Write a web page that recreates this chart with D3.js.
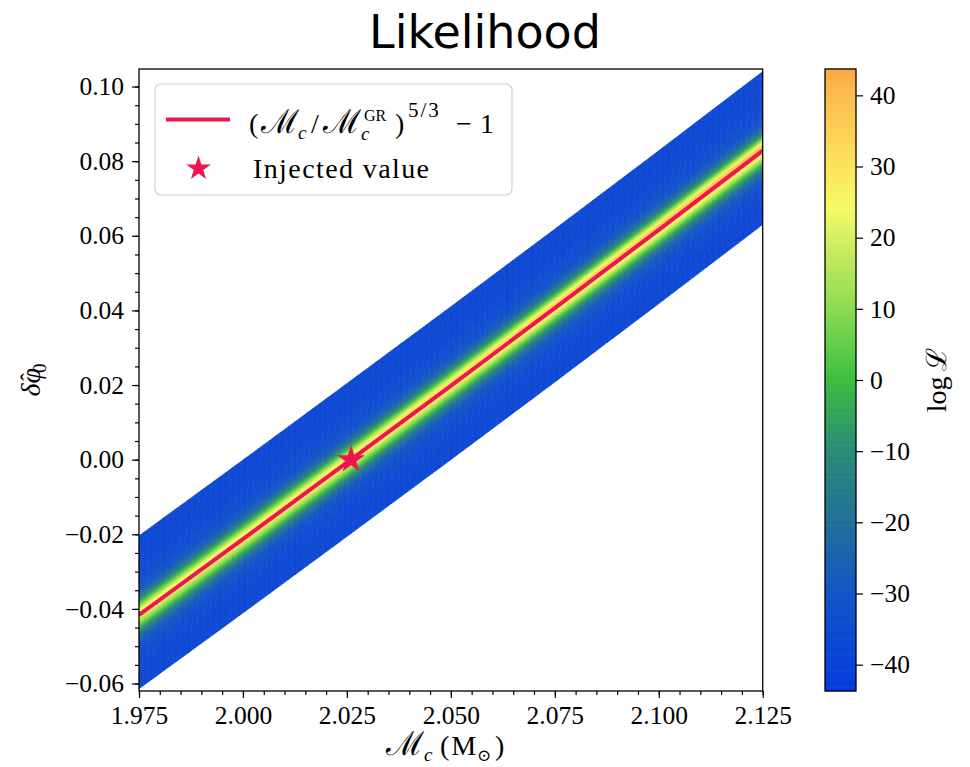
<!DOCTYPE html>
<html><head><meta charset="utf-8">
<script src="https://cdn.jsdelivr.net/npm/d3@7"></script>
<style>body{margin:0;background:#fff}svg{display:block}</style>
</head><body>
<svg id="chart" width="970" height="767"></svg>
<script>
// ---------- data ----------
const xTicks = [1.975, 2.000, 2.025, 2.050, 2.075, 2.100, 2.125];
const xTickLabels = ["1.975", "2.000", "2.025", "2.050", "2.075", "2.100", "2.125"];
const yTicks = [-0.06, -0.04, -0.02, 0.00, 0.02, 0.04, 0.06, 0.08, 0.10];
const yTickLabels = ["\u22120.06", "\u22120.04", "\u22120.02", "0.00", "0.02", "0.04", "0.06", "0.08", "0.10"];
const cbTicks = [-40, -30, -20, -10, 0, 10, 20, 30, 40];
const cbTickLabels = ["\u221240", "\u221230", "\u221220", "\u221210", "0", "10", "20", "30", "40"];

// GR relation curve, read at the tick positions
const lineMc = [1.975, 2.000, 2.025, 2.050, 2.075, 2.100, 2.125];
const lineValues = [-0.0416, -0.0213, -0.0008, 0.0198, 0.0406, 0.0616, 0.0828];

// injected point
const injectedMc = [2.026];
const injectedDphi = [0.0];

// likelihood band: offsets from the GR curve and log L profile at three chirp masses
const bandMc = [1.975, 2.050, 2.125];
const bandOffsets = [-0.0198, -0.0130, -0.0100, -0.0075, -0.0058, -0.0044, -0.0032, -0.0020, -0.0008, 0.0004, 0.0014, 0.0026, 0.0040, 0.0054, 0.0070, 0.0090, 0.0130, 0.0210];
const logL1975 = [-38, -37, -35, -31, -24, -13, -1, 11, 19, 24, 23, 9, -7, -21, -29, -34, -37, -38];
const logL2050 = [-38, -37, -35, -31, -23, -12, 0, 13, 23, 30, 29, 12, -6, -20, -29, -34, -37, -38];
const logL2125 = [-38, -37, -35, -30, -22, -10, 2, 16, 28, 38, 37, 17, -4, -19, -28, -34, -37, -38];

// colour map
const cStops = [-43.7, -40, -30, -20, -10, 0, 10, 20, 24, 30, 40, 43.7];
const cHex = ["#053ae0", "#0842d8", "#1255c6", "#1f7098", "#2a8a78", "#3cbd3e", "#8cdb52", "#d6ef62", "#f6fb66", "#fde35c", "#fcbd4c", "#f9a846"];
const cbDomain = [-43.7, 43.7];

// ---------- layout ----------
const P = {left: 139, right: 762.7, top: 69, bottom: 691};
const CB = {left: 825, right: 856};
const RED = "#ef1650";
const SERIF = "'Liberation Serif','DejaVu Serif',serif";

const svg = d3.select("#chart");
const x = d3.scaleLinear().domain([1.975, 2.125]).range([P.left, P.right]);
const y = d3.scaleLinear().domain([-0.0620, 0.1047]).range([P.bottom, P.top]);
const color = d3.scaleLinear().domain(cStops).range(cHex).interpolate(d3.interpolateRgb).clamp(true);
const curve = d3.scaleLinear().domain(lineMc).range(lineValues);

// title
svg.append("text").attr("x", 485).attr("y", 48).attr("text-anchor", "middle")
  .attr("font-family", "'DejaVu Sans',sans-serif").attr("font-size", 46).attr("fill", "#000")
  .text("Likelihood");

// clip
svg.append("clipPath").attr("id", "clip").append("rect")
  .attr("x", P.left).attr("y", P.top).attr("width", P.right - P.left).attr("height", P.bottom - P.top);
const plot = svg.append("g").attr("clip-path", "url(#clip)");

// band cells
const profiles = [logL1975, logL2050, logL2125].map(v => d3.scaleLinear().domain(bandOffsets).range(v));
const mcStep = 0.0015, dStep = 0.0005;
const cols = d3.range(1.975, 2.125 + 1e-9, mcStep);
const rows = d3.range(bandOffsets[0], bandOffsets[bandOffsets.length - 1] + 1e-9, dStep);
const cells = [];
cols.forEach(m0 => {
  const m1 = m0 + mcStep;
  const mc = (m0 + m1) / 2;
  rows.forEach(d0 => {
    const d1 = d0 + dStep;
    const dc = (d0 + d1) / 2;
    const vals = profiles.map(p => p(dc));
    const v = d3.scaleLinear().domain(bandMc).range(vals)(mc);
    cells.push({m0, m1, d0, d1, v});
  });
});
plot.append("g").selectAll("path").data(cells).join("path")
  .attr("d", c => {
    const a = [x(c.m0), y(curve(c.m0) + c.d0)], b = [x(c.m1), y(curve(c.m1) + c.d0)];
    const cc = [x(c.m1), y(curve(c.m1) + c.d1)], dd = [x(c.m0), y(curve(c.m0) + c.d1)];
    return "M" + a + "L" + b + "L" + cc + "L" + dd + "Z";
  })
  .attr("fill", c => color(c.v)).attr("stroke", c => color(c.v)).attr("stroke-width", 0.6);

// GR line
plot.append("path").datum(lineMc.map((m, i) => [m, lineValues[i]]))
  .attr("d", d3.line().x(d => x(d[0])).y(d => y(d[1])))
  .attr("fill", "none").attr("stroke", RED).attr("stroke-width", 4);

// injected star
plot.selectAll("path.star").data(injectedMc.map((m, i) => [m, injectedDphi[i]])).join("path")
  .attr("class", "star")
  .attr("d", d3.symbol(d3.symbolStar).size(240))
  .attr("transform", d => `translate(${x(d[0])},${y(d[1])})`)
  .attr("fill", RED);

// axes
function styleAxis(g) {
  g.select(".domain").remove();
  g.selectAll(".tick line").attr("stroke", "#000").attr("stroke-width", 1.2);
  g.selectAll(".tick text").attr("font-family", SERIF).attr("font-size", 25.5).attr("fill", "#000");
}
const xMinor = d3.range(1.975, 2.1251, 0.005);
const yMinor = d3.range(-0.06, 0.1041, 0.005);

svg.append("g").attr("transform", `translate(0,${P.bottom})`)
  .call(d3.axisBottom(x).tickValues(xMinor).tickSize(4).tickFormat(""))
  .call(styleAxis);
svg.append("g").attr("transform", `translate(0,${P.bottom})`)
  .call(d3.axisBottom(x).tickValues(xTicks).tickSize(7).tickPadding(8)
    .tickFormat((d, i) => xTickLabels[i]))
  .call(styleAxis);
svg.append("g").attr("transform", `translate(${P.left},0)`)
  .call(d3.axisLeft(y).tickValues(yMinor).tickSize(4).tickFormat(""))
  .call(styleAxis);
svg.append("g").attr("transform", `translate(${P.left},0)`)
  .call(d3.axisLeft(y).tickValues(yTicks).tickSize(7).tickPadding(8)
    .tickFormat((d, i) => yTickLabels[i]))
  .call(styleAxis);

// frame
svg.append("rect").attr("x", P.left).attr("y", P.top)
  .attr("width", P.right - P.left).attr("height", P.bottom - P.top)
  .attr("fill", "none").attr("stroke", "#000").attr("stroke-width", 1.3);

// axis labels
const xl = svg.append("text").attr("y", 755).attr("font-family", SERIF).attr("font-size", 28).attr("fill", "#000");
xl.append("tspan").attr("x", 386).attr("font-size", 33).text("\u2133");
xl.append("tspan").attr("x", 424).attr("font-size", 19).attr("font-style", "italic").attr("dy", 6).text("c");
xl.append("tspan").attr("x", 440).attr("dy", -6).attr("letter-spacing", 2).text("(M");
xl.append("tspan").attr("x", 477).attr("font-size", 17).attr("dy", 6).text("\u2299");
xl.append("tspan").attr("x", 495).attr("dy", -6).text(")");

const yl = svg.append("text").attr("transform", `translate(40,${(P.top + P.bottom) / 2}) rotate(-90)`)
  .attr("text-anchor", "middle").attr("font-family", SERIF).attr("font-size", 28).attr("fill", "#000");
yl.append("tspan").attr("font-style", "italic").text("\u03B4\u03C6");
yl.append("tspan").attr("font-size", 24).attr("dx", -13).attr("dy", -3).text("\u02C6");
yl.append("tspan").attr("font-size", 19).attr("dx", 0).attr("dy", 9).text("0");

// legend
const lg = svg.append("g");
lg.append("rect").attr("x", 155).attr("y", 84).attr("width", 357).attr("height", 111)
  .attr("rx", 6).attr("fill", "#fff").attr("fill-opacity", 0.8)
  .attr("stroke", "#d0d0d0").attr("stroke-width", 1.2);
lg.append("line").attr("x1", 166).attr("x2", 230).attr("y1", 119.5).attr("y2", 119.5)
  .attr("stroke", RED).attr("stroke-width", 4);
lg.append("path").attr("d", d3.symbol(d3.symbolStar).size(190))
  .attr("transform", "translate(198.5,168.5)").attr("fill", RED);
const t1 = lg.append("text").attr("y", 133).attr("font-family", SERIF).attr("font-size", 28).attr("fill", "#000");
t1.append("tspan").attr("x", 249).text("(");
t1.append("tspan").attr("x", 261).attr("font-size", 33).text("\u2133");
t1.append("tspan").attr("x", 298).attr("font-size", 19).attr("font-style", "italic").attr("dy", 6).text("c");
t1.append("tspan").attr("x", 311).attr("dy", -6).text("/");
t1.append("tspan").attr("x", 323).attr("font-size", 33).text("\u2133");
lg.append("text").attr("x", 361).attr("y", 140).attr("font-family", SERIF).attr("font-size", 19)
  .attr("font-style", "italic").attr("fill", "#000").text("c");
lg.append("text").attr("x", 364).attr("y", 121).attr("font-family", SERIF).attr("font-size", 16)
  .attr("fill", "#000").text("GR");
const t2 = lg.append("text").attr("y", 133).attr("font-family", SERIF).attr("font-size", 28).attr("fill", "#000");
t2.append("tspan").attr("x", 395).text(")");
t2.append("tspan").attr("x", 408).attr("y", 117).attr("font-size", 21).attr("letter-spacing", 2).text("5/3");
t2.append("tspan").attr("x", 456).attr("y", 133).text("\u2212");
t2.append("tspan").attr("x", 480).text("1");
lg.append("text").attr("x", 253).attr("y", 178).attr("font-family", SERIF).attr("font-size", 28)
  .attr("letter-spacing", 1.4).attr("fill", "#000").text("Injected value");

// colorbar
const cy = d3.scaleLinear().domain(cbDomain).range([P.bottom, P.top]);
const cbSteps = d3.range(cbDomain[0], cbDomain[1], 0.25);
svg.append("g").selectAll("rect").data(cbSteps).join("rect")
  .attr("x", CB.left).attr("width", CB.right - CB.left)
  .attr("y", d => cy(Math.min(d + 0.25, cbDomain[1])) - 0.3)
  .attr("height", d => cy(d) - cy(Math.min(d + 0.25, cbDomain[1])) + 0.6)
  .attr("fill", d => color(d + 0.125));
svg.append("rect").attr("x", CB.left).attr("y", P.top).attr("width", CB.right - CB.left)
  .attr("height", P.bottom - P.top).attr("fill", "none").attr("stroke", "#000").attr("stroke-width", 1.3);
svg.append("g").attr("transform", `translate(${CB.right},0)`)
  .call(d3.axisRight(cy).tickValues(cbTicks).tickSize(7).tickPadding(7)
    .tickFormat((d, i) => cbTickLabels[i]))
  .call(styleAxis);
const cl = svg.append("text").attr("transform", `translate(946,${(P.top + P.bottom) / 2}) rotate(-90)`)
  .attr("text-anchor", "middle").attr("font-family", SERIF).attr("font-size", 28).attr("fill", "#000");
cl.append("tspan").text("log\u2009");
cl.append("tspan").text("\u2112");
</script>
</body></html>
